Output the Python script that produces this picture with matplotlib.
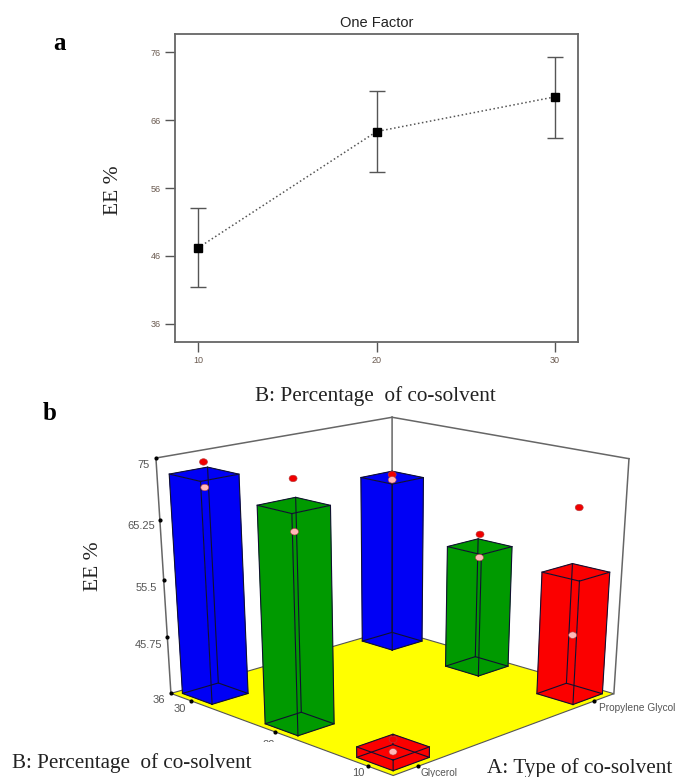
import numpy as np
import matplotlib
matplotlib.use('Agg')
import matplotlib.pyplot as plt
from matplotlib.patches import Polygon, Ellipse, Rectangle

W, H = 676, 777
serif = 'Liberation Serif'
sans = 'Liberation Sans'

# panel a
pct = [10, 20, 30]
ee_mean = [47.2, 64.3, 69.4]
ee_low = [41.4, 58.3, 63.4]
ee_high = [53.1, 70.2, 75.2]
y_ticks = [36, 46, 56, 66, 76]

# panel b, one entry per bar
a_names = ['Glycerol', 'Propylene Glycol']
b_levels = [10, 20, 30]
z_ticks = [36, 45.75, 55.5, 65.25, 75]
bar_a = ['Propylene Glycol', 'Propylene Glycol', 'Glycerol', 'Propylene Glycol', 'Glycerol', 'Glycerol']
bar_b = [30, 20, 30, 10, 20, 10]
bar_mean = [65.9, 57.3, 72.5, 56.8, 70.9, 37.7]
run_high = [66.4, 59.4, 74.4, 67.3, 74.9, 38.9]
run_low = [65.5, 55.4, 70.4, 46.2, 66.9, 36.9]

bar_colors = {10: '#fb0000', 20: '#009a00', 30: '#0000f5'}

fig = plt.figure(figsize=(W / 100, H / 100), dpi=100)

# panel a axes
ax = fig.add_axes([175 / W, 1 - 342 / H, 403 / W, 308 / H])
ax.errorbar(pct, ee_mean,
            yerr=[np.array(ee_mean) - np.array(ee_low), np.array(ee_high) - np.array(ee_mean)],
            fmt='none', ecolor='#555555', elinewidth=1, capsize=5.8, capthick=1)
ax.plot(pct, ee_mean, ':', color='#555555', lw=1.1)
ax.plot(pct, ee_mean, 's', color='black', ms=6.2)
ax.set_xlim(8.7, 31.3)
ax.set_ylim(33.35, 78.65)
ax.set_xticks(pct)
ax.set_yticks(y_ticks)
ax.tick_params(axis='both', colors='#555555', length=7, width=1, labelsize=6.5, labelcolor='#6a5a50', pad=3)
for s in ax.spines.values():
    s.set_color('#666666')
    s.set_linewidth(1.3)
for t in ax.get_xticklabels() + ax.get_yticklabels():
    t.set_family(sans)

# panel b is drawn in pixel space, through a camera fitted to the frame corners
ov = fig.add_axes([0, 0, 1, 1], zorder=5)
ov.set_xlim(0, W)
ov.set_ylim(H, 0)
ov.axis('off')
ov.patch.set_alpha(0)

corners_world = [(0, 0, 0), (1, 0, 0), (0, 1, 0), (1, 1, 0), (0, 1, 1), (1, 1, 1), (1, 0, 1)]
corners_px = [(393, 776), (614, 693), (171, 693), (392, 630), (156, 458), (392, 417), (629, 459)]

rows = []
for (u, v, w), (x, y) in zip(corners_world, corners_px):
    rows.append([u, v, w, 1, 0, 0, 0, 0, -x * u, -x * v, -x * w, -x])
    rows.append([0, 0, 0, 0, u, v, w, 1, -y * u, -y * v, -y * w, -y])
cam = np.linalg.svd(np.array(rows, dtype=float))[2][-1].reshape(3, 4)


def proj(u, v, w):
    p = cam @ np.array([u, v, w, 1.0])
    return p[0] / p[2], p[1] / p[2]


def to_u(name):
    return 0.1 if name == a_names[0] else 0.9


def to_v(b):
    return 0.1 + 0.8 * (b - b_levels[0]) / (b_levels[-1] - b_levels[0])


def to_w(z):
    return (z - z_ticks[0]) / (z_ticks[-1] - z_ticks[0])


frame = '#666666'
ov.add_patch(Polygon([proj(0, 0, 0), proj(1, 0, 0), proj(1, 1, 0), proj(0, 1, 0)],
                     facecolor='#ffff00', edgecolor='#555555', lw=0.8, zorder=1))
for a, b in [((0, 1, 0), (0, 1, 1)), ((0, 1, 1), (1, 1, 1)), ((1, 1, 1), (1, 0, 1)),
             ((1, 0, 1), (1, 0, 0)), ((1, 1, 0), (1, 1, 1))]:
    pa, pb = proj(*a), proj(*b)
    ov.plot([pa[0], pb[0]], [pa[1], pb[1]], color=frame, lw=1.1, zorder=1.5)

hw = 0.074
z_order = 2
for name, b, m, hi, lo in zip(bar_a, bar_b, bar_mean, run_high, run_low):
    uc, vc, top = to_u(name), to_v(b), to_w(m)
    u0, u1, v0, v1 = uc - hw, uc + hw, vc - hw, vc + hw
    col = bar_colors[b]
    faces = [[(u0, v0, 0), (u1, v0, 0), (u1, v0, top), (u0, v0, top)],
             [(u0, v0, 0), (u0, v1, 0), (u0, v1, top), (u0, v0, top)],
             [(u0, v0, top), (u1, v0, top), (u1, v1, top), (u0, v1, top)]]
    for f in faces:
        ov.add_patch(Polygon([proj(*c) for c in f], facecolor=col, edgecolor=col, lw=0.3, zorder=z_order))
    # wireframe, the hidden edges show through
    for lev in (0, top):
        ring = [(u0, v0), (u1, v0), (u1, v1), (u0, v1), (u0, v0)]
        pts = [proj(p[0], p[1], lev) for p in ring]
        ov.plot([p[0] for p in pts], [p[1] for p in pts], color='#101030', lw=0.8, zorder=z_order + 0.1)
    for cu, cv in [(u0, v0), (u1, v0), (u1, v1), (u0, v1)]:
        pa, pb = proj(cu, cv, 0), proj(cu, cv, top)
        ov.plot([pa[0], pb[0]], [pa[1], pb[1]], color='#101030', lw=0.8, zorder=z_order + 0.1)
    for val, c in [(hi, '#f00000'), (lo, '#ffb8b8')]:
        ov.add_patch(Ellipse(proj(uc, vc, to_w(val)), 8, 6.5, facecolor=c, edgecolor='#b04040', lw=0.4,
                             zorder=z_order + 0.2))
    z_order += 1

# ticks and labels of the 3d frame
for z, off in zip(z_ticks, [(-12, 7), (-19, 8), (-17, 8), (-19, 6), (-12, 7)]):
    x, y = proj(0, 1, to_w(z))
    ov.plot(x, y, 'o', color='black', ms=2, zorder=20)
    ov.text(x + off[0], y + off[1], f'{z:g}', ha='center', va='center', fontsize=8, family=sans,
            color='#555555', zorder=20)
for b, off in zip(b_levels, [(-10, 7), (-6, 13), (-11, 8)]):
    x, y = proj(0, to_v(b), 0)
    ov.plot(x, y, 'o', color='black', ms=2, zorder=20)
    ov.text(x + off[0], y + off[1], str(b), ha='center', va='center', fontsize=8, family=sans,
            color='#555555', zorder=20)
for name, off in zip(a_names, [(21, 7), (43, 7)]):
    x, y = proj(to_u(name), 0, 0)
    ov.plot(x, y, 'o', color='black', ms=2, zorder=20)
    ov.text(x + off[0], y + off[1], name, ha='center', va='center', fontsize=7.3, family=sans,
            color='#555555', zorder=20)

# pasted captions
ov.add_patch(Rectangle((0, 742), 285, 35, facecolor='white', edgecolor='none', zorder=21))
ov.text(377, 23, 'One Factor', ha='center', va='center', fontsize=10.5, family=sans, color='#222222', zorder=22)
ov.text(375, 396.5, 'B: Percentage  of co-solvent', ha='center', va='center', fontsize=15.3, family=serif,
        color='#222222', zorder=22)
ov.text(12, 763, 'B: Percentage  of co-solvent', ha='left', va='center', fontsize=15.2, family=serif,
        color='#222222', zorder=22)
ov.text(487, 768, 'A: Type of co-solvent', ha='left', va='center', fontsize=15.3, family=serif,
        color='#222222', zorder=22)
ov.text(113, 190, 'EE %', rotation=90, ha='center', va='center', fontsize=15.5, family=serif, color='#222222', zorder=22)
ov.text(94, 566, 'EE %', rotation=90, ha='center', va='center', fontsize=15.5, family=serif, color='#222222', zorder=22)
ov.text(60, 44, 'a', ha='center', va='center', fontsize=18, weight='bold', family=serif, color='black', zorder=22)
ov.text(50, 413, 'b', ha='center', va='center', fontsize=18, weight='bold', family=serif, color='black', zorder=22)

fig.savefig('out.png', dpi=100)
